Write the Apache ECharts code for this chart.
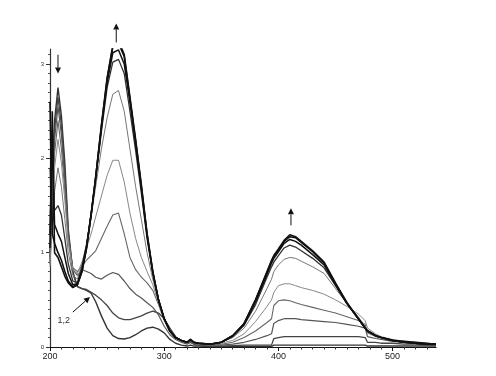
<!DOCTYPE html>
<html><head><meta charset="utf-8">
<script src="https://cdn.jsdelivr.net/npm/echarts@6/dist/echarts.min.js"></script>
<style>html,body{margin:0;padding:0;background:#fff}#c{width:496px;height:376px}</style>
</head><body><div id="c"></div>
<script>
// wavelength grid (nm)
const wavelengths = [200,202,204,207,210,213,216,220,224,228,232,236,240,245,250,255,260,265,270,275,280,285,290,295,300,305,310,315,320,323,326,330,340,350,360,370,380,390,394,396,400,405,410,415,420,430,440,450,460,470,476,478,485,490,500,510,520,530,538];

// absorbance of each spectrum (1 = lowest in the 260 nm band)
const spec1 = [1.0,1.8,2.4,2.75, 2.45,1.95,1.25,0.8,0.64, 0.62,0.6,0.57,0.48,0.33,0.2,0.12, 0.09,0.085,0.1,0.13,0.17,0.2,0.21,0.19,0.15, 0.08,0.04,0.02,0.01,0.02,0.01,0.01, 0.005,0.005,0.005,0.005,0.005,0.005,0.005, 0.02,0.02,0.02,0.02,0.02,0.02, 0.02,0.02,0.02,0.02,0.02,0.02, 0.01,0.01,0.01,0.01,0.01,0.01,0.01,0.01];
const spec2 = [0.95,1.7,2.3,2.65, 2.35,1.85,1.2,0.78,0.64, 0.62,0.61,0.58,0.55,0.5,0.44,0.36, 0.31,0.29,0.29,0.31,0.33,0.36,0.38,0.36,0.3, 0.2,0.11,0.06,0.04,0.05,0.03,0.02, 0.01,0.01,0.015,0.02,0.02,0.02,0.02, 0.09,0.1,0.11,0.11,0.11,0.11, 0.11,0.11,0.11,0.11,0.11,0.1, 0.05,0.05,0.04,0.04,0.03,0.03,0.02,0.02];
const spec3 = [0.9,1.6,2.2,2.55, 2.25,1.75,1.2,0.82,0.76, 0.82,0.8,0.78,0.74,0.72,0.76,0.79, 0.77,0.7,0.62,0.56,0.52,0.47,0.42,0.34,0.22, 0.13,0.08,0.05,0.03,0.05,0.03,0.02, 0.02,0.02,0.03,0.05,0.08,0.12,0.14, 0.25,0.28,0.3,0.3,0.3,0.29, 0.28,0.27,0.26,0.24,0.22,0.2, 0.11,0.09,0.08,0.06,0.05,0.04,0.03,0.03];
const spec4 = [0.88,1.5,2.05,2.4, 2.1,1.65,1.15,0.84,0.8, 0.86,0.92,0.97,1.02,1.15,1.28,1.4, 1.42,1.2,0.95,0.82,0.74,0.68,0.6,0.45,0.28, 0.16,0.09,0.06,0.04,0.06,0.04,0.03, 0.02,0.03,0.05,0.1,0.17,0.26,0.3, 0.44,0.49,0.5,0.49,0.47,0.45, 0.42,0.39,0.36,0.32,0.28,0.24, 0.15,0.11,0.1,0.07,0.05,0.04,0.03,0.03];
const spec5 = [0.85,1.4,1.9,2.2, 1.95,1.55,1.1,0.82,0.78, 0.9,1.05,1.2,1.38,1.6,1.82,1.98, 1.98,1.75,1.42,1.15,0.95,0.8,0.66,0.47,0.29, 0.16,0.1,0.06,0.05,0.07,0.05,0.04, 0.03,0.04,0.07,0.14,0.27,0.43,0.5, 0.58,0.65,0.67,0.67,0.65,0.63, 0.6,0.56,0.5,0.43,0.35,0.28, 0.2,0.14,0.11,0.08,0.06,0.05,0.04,0.03];
const spec6 = [0.9,1.3,1.65,1.9, 1.7,1.35,1.0,0.76,0.72, 0.88,1.1,1.38,1.7,2.1,2.43,2.68, 2.72,2.5,2.1,1.7,1.35,1.0,0.72,0.48,0.29, 0.16,0.1,0.07,0.05,0.07,0.05,0.04, 0.03,0.05,0.1,0.2,0.38,0.62,0.72, 0.8,0.87,0.93,0.95,0.94,0.91, 0.85,0.78,0.62,0.46,0.32,0.22, 0.18,0.13,0.1,0.07,0.05,0.04,0.03,0.03];
const spec7 = [1.9,1.3,1.45,1.5, 1.4,1.15,0.88,0.7,0.68, 0.85,1.08,1.42,1.78,2.28,2.75,3.02, 3.05,2.9,2.5,2.08,1.63,1.15,0.78,0.5,0.3, 0.17,0.1,0.07,0.05,0.07,0.05,0.04, 0.03,0.05,0.11,0.23,0.45,0.74,0.85, 0.9,0.97,1.05,1.08,1.06,1.02, 0.94,0.84,0.65,0.46,0.3,0.2, 0.17,0.12,0.1,0.07,0.05,0.04,0.03,0.03];
const spec8 = [1.2,2.3,1.3,1.2, 1.12,0.95,0.78,0.66,0.67, 0.82,1.06,1.4,1.8,2.32,2.8,3.12, 3.15,3.0,2.6,2.15,1.68,1.18,0.79,0.5,0.3, 0.17,0.1,0.07,0.05,0.08,0.05,0.04, 0.03,0.05,0.12,0.24,0.48,0.77,0.89, 0.94,1.01,1.1,1.14,1.12,1.08, 0.98,0.87,0.66,0.46,0.3,0.2, 0.17,0.12,0.1,0.07,0.05,0.04,0.03,0.03];
const spec9 = [2.6,1.2,1.1,1.0, 0.92,0.8,0.7,0.64,0.66, 0.8,1.05,1.4,1.8,2.34,2.84,3.18, 3.22,3.08,2.63,2.18,1.7,1.2,0.8,0.5,0.3, 0.17,0.1,0.07,0.05,0.08,0.05,0.04, 0.03,0.05,0.12,0.25,0.5,0.79,0.91, 0.96,1.03,1.12,1.17,1.16,1.11, 1.01,0.89,0.67,0.47,0.3,0.2, 0.17,0.12,0.1,0.07,0.05,0.04,0.03,0.03];
const spec10 = [1.05,2.5,1.0,0.95, 0.85,0.75,0.68,0.63,0.66, 0.8,1.05,1.4,1.8,2.35,2.85,3.2, 3.25,3.1,2.65,2.2,1.72,1.2,0.8,0.5,0.3, 0.17,0.1,0.07,0.05,0.08,0.05,0.04, 0.03,0.05,0.12,0.25,0.5,0.8,0.92, 0.97,1.04,1.13,1.19,1.17,1.12, 1.02,0.9,0.68,0.47,0.3,0.2, 0.17,0.12,0.1,0.07,0.06,0.05,0.04,0.03];

const xTickLabels = [200,300,400,500];
const yTickLabels = [0,1,2,3];
const seriesLabelText = '1,2';

const spectra = [spec1,spec2,spec3,spec4,spec5,spec6,spec7,spec8,spec9,spec10];
const styles = [
  {c:'#333',w:1.4},{c:'#444',w:1.3},{c:'#555',w:1.2},{c:'#666',w:1.1},{c:'#888',w:1},
  {c:'#777',w:1},{c:'#333',w:1.3},{c:'#111',w:1.5},{c:'#111',w:1.6},{c:'#111',w:1.6}
];

const xMinor = []; for (let v = 210; v <= 530; v += 10) if (v % 100) xMinor.push(v);
const yMinor = []; for (let k = 1; k <= 31; k++) if (k % 10) yMinor.push(+(k/10).toFixed(1));

const chart = echarts.init(document.getElementById('c'), null, {renderer:'canvas'});
const grid = {left:50, right:60, top:49, bottom:29};
const option = {
  animation:false,
  backgroundColor:'#fff',
  grid: grid,
  xAxis: [
    {type:'value', min:200, max:538, position:'bottom',
     axisLine:{show:true, lineStyle:{color:'#111', width:1.2}},
     axisTick:{show:true, customValues:xTickLabels, length:4, lineStyle:{color:'#111'}},
     axisLabel:{show:true, customValues:xTickLabels, fontSize:9, color:'#222', margin:5, fontFamily:'Liberation Sans'},
     splitLine:{show:false}},
    {type:'value', min:200, max:538, position:'bottom',
     axisLine:{show:false},
     axisTick:{show:true, customValues:xMinor, length:2.5, lineStyle:{color:'#333'}},
     axisLabel:{show:false}, splitLine:{show:false}}
  ],
  yAxis: [
    {type:'value', min:0, max:3.16, position:'left',
     axisLine:{show:true, lineStyle:{color:'#333', width:1.2}},
     axisTick:{show:true, customValues:yTickLabels, length:4, lineStyle:{color:'#333'}},
     axisLabel:{show:true, customValues:yTickLabels, fontSize:6, color:'#333', margin:6, fontFamily:'Liberation Sans'},
     splitLine:{show:false}},
    {type:'value', min:0, max:3.16, position:'left',
     axisLine:{show:false},
     axisTick:{show:true, customValues:yMinor, length:2, lineStyle:{color:'#555'}},
     axisLabel:{show:false}, splitLine:{show:false}}
  ],
  series: spectra.map((s, k) => ({
    type:'line', xAxisIndex:0, yAxisIndex:0, symbol:'none', silent:true, clip:true,
    lineStyle:{color:styles[k].c, width:styles[k].w},
    data: wavelengths.map((w, i) => [w, s[i]])
  }))
};
chart.setOption(option);

// annotations in data coordinates
const arrows = [
  {from:[207, 3.10], to:[207, 2.90]},
  {from:[258, 3.23], to:[258, 3.43]},
  {from:[411, 1.29], to:[411, 1.47]},
  {from:[220, 0.37], to:[235, 0.53]}
];
function px(p){ return chart.convertToPixel({xAxisIndex:0, yAxisIndex:0}, p); }
const g = [];
arrows.forEach(a => {
  const p1 = px(a.from), p2 = px(a.to);
  const dx = p2[0]-p1[0], dy = p2[1]-p1[1], L = Math.hypot(dx,dy);
  const ux = dx/L, uy = dy/L, hl = 6, hw = 3;
  const bx = p2[0]-ux*hl, by = p2[1]-uy*hl;
  g.push({type:'line', shape:{x1:p1[0], y1:p1[1], x2:bx, y2:by}, style:{stroke:'#111', lineWidth:1}, silent:true});
  g.push({type:'polygon', shape:{points:[[p2[0],p2[1]],[bx-uy*hw, by+ux*hw],[bx+uy*hw, by-ux*hw]]}, style:{fill:'#111'}, silent:true});
});
const tp = px([212, 0.28]);
g.push({type:'text', x:tp[0], y:tp[1], style:{text:seriesLabelText, fontSize:9, fill:'#333', align:'center', verticalAlign:'middle', fontFamily:'Liberation Sans'}, silent:true});
chart.setOption({graphic:g});
</script>
</body></html>
